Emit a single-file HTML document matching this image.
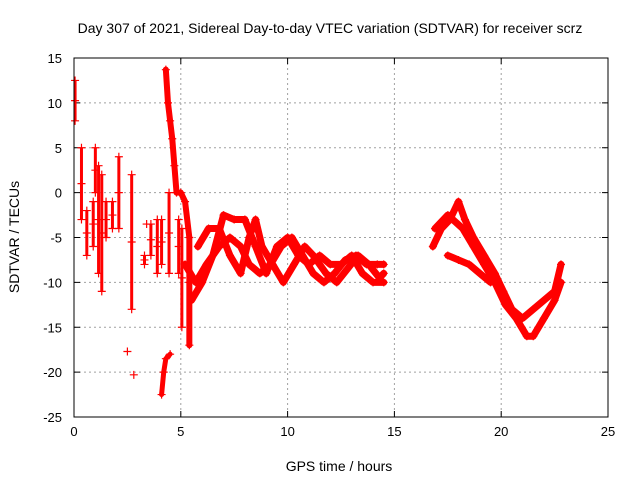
<!DOCTYPE html>
<html><head><meta charset="utf-8"><style>
body{margin:0;background:#fff;}
svg{font-family:"Liberation Sans",sans-serif;}
</style></head><body>
<svg id="chart" width="640" height="480" viewBox="0 0 640 480">
<text x="330" y="33" font-size="14" text-anchor="middle">Day 307 of 2021, Sidereal Day-to-day VTEC variation (SDTVAR) for receiver scrz</text>
<text x="339" y="471" font-size="14" text-anchor="middle">GPS time / hours</text>
<text x="19" y="237" font-size="14" text-anchor="middle" transform="rotate(-90 19 237)">SDTVAR / TECUs</text>
<g id="grid"></g><g id="marks"></g>
<rect x="74" y="58" width="534" height="359" fill="none" stroke="#000" stroke-width="1"/>
</svg>
<script>
const xTicks=[0,5,10,15,20,25];
const yTicks=[15,10,5,0,-5,-10,-15,-20,-25];
const track1=[[5.2,-8],[5.7,-10],[6.2,-8],[6.8,-6],[7.3,-5],[7.8,-6],[8.2,-8],[8.7,-9],[9.2,-8],[9.7,-6],[10.2,-5],[10.7,-7],[11.2,-9],[11.7,-10],[12.2,-9],[12.7,-7.5],[13.2,-7],[13.7,-8],[14.2,-8],[14.5,-8]];
const track2=[[5.5,-12],[6,-10],[6.5,-7],[7,-2.5],[7.5,-3],[8,-3],[8.5,-6],[9,-9],[9.5,-6],[10,-5],[10.5,-7],[11,-8],[11.5,-7],[12,-8],[12.5,-8],[13,-7],[13.5,-9],[14,-10],[14.5,-10]];
const track3=[[5.8,-6],[6.3,-4],[6.8,-4],[7.3,-7],[7.8,-9],[8.2,-5],[8.5,-3],[8.8,-6],[9.3,-8],[9.8,-10],[10.3,-8],[10.8,-6],[11.2,-7],[11.8,-9],[12.3,-10],[12.8,-8.5],[13.3,-7],[13.8,-8],[14.3,-9.5],[14.5,-9]];
const track4=[[16.8,-6],[17.2,-4],[17.6,-3],[18,-1],[18.3,-3],[18.7,-5],[19.2,-7],[19.7,-9],[20.1,-11],[20.5,-13],[21,-14],[21.5,-13],[22,-12],[22.5,-11],[22.8,-8]];
const track5=[[17.5,-7],[18,-7.5],[18.5,-8],[19,-9],[19.5,-10]];
const track6=[[16.9,-4],[17.5,-2.5],[18.2,-4],[18.7,-6],[19.2,-8],[19.7,-10],[20.2,-12.5],[20.7,-14],[21.2,-16],[21.5,-16],[22,-14],[22.5,-12],[22.8,-10]];
const spike=[[4.3,13.7],[4.4,10],[4.5,8],[4.6,6],[4.7,3],[4.8,0],[5.0,0],[5.2,-1],[5.4,-5],[5.4,-10],[5.4,-17]];
const rise=[[4.1,-22.5],[4.2,-20],[4.3,-18.5],[4.5,-18]];
const columns=[[0.05,8,12.5],[0.35,-3,5],[0.6,-7,-2],[0.9,-6,-1],[1.0,0,5],[1.15,-9,3],[1.3,-11,2],[1.5,-5,-1],[1.8,-4,-1],[2.1,-4,4],[2.7,-13,2],[3.3,-8,-7],[3.6,-7,-3.5],[3.9,-9,-3],[4.1,-8,-3],[4.45,-9,0],[4.9,-9,-3],[5.05,-15,-4]];
const isolated=[[2.5,-17.7],[2.8,-20.3],[3.4,-3.5]];
const X=v=>74+v*534/25, Y=v=>58+(15-v)*359/40;
const ns="http://www.w3.org/2000/svg";
const grid=document.getElementById('grid'), marks=document.getElementById('marks');
function mk(tag,at,p){const e=document.createElementNS(ns,tag);for(const k in at)e.setAttribute(k,at[k]);p.appendChild(e);return e;}
xTicks.forEach(t=>{
  if(t>0&&t<25){const l=mk('line',{x1:X(t),x2:X(t),y1:58,y2:417,stroke:'#a0a0a0','stroke-dasharray':'2,3'},grid);
  
  }
  const tx=mk('text',{x:X(t),y:436,'font-size':13,'text-anchor':'middle'},grid);tx.textContent=t;
  
  
  mk('line',{x1:X(t),x2:X(t),y1:417,y2:411,stroke:'#000'},grid);mk('line',{x1:X(t),x2:X(t),y1:58,y2:64,stroke:'#000'},grid);
});
yTicks.forEach(t=>{
  if(t<15&&t>-25){const l=mk('line',{x1:74,x2:608,y1:Y(t),y2:Y(t),stroke:'#a0a0a0','stroke-dasharray':'2,3'},grid);
  
  }
  const tx=mk('text',{x:62,y:Y(t)+5,'font-size':13,'text-anchor':'end'},grid);tx.textContent=t;
  
  
  mk('line',{x1:74,x2:80,y1:Y(t),y2:Y(t),stroke:'#000'},grid);mk('line',{x1:608,x2:602,y1:Y(t),y2:Y(t),stroke:'#000'},grid);
});
function plus(x,y){const p=mk('path',{d:`M${x-4},${y}h8M${x},${y-4}v8`,stroke:'#f00','stroke-width':1.2},marks);
  
  }
function track(pts,w){const pl=mk('polyline',{points:pts.map(p=>X(p[0])+','+Y(p[1])).join(' '),fill:'none',stroke:'#f00','stroke-width':w,'stroke-linejoin':'round','stroke-linecap':'round'},marks);
  
  
  pts.forEach(p=>plus(X(p[0]),Y(p[1])));}
[track1,track2,track3,track4,track5,track6].forEach(t=>track(t,7));
track(spike,6);track(rise,5);
columns.forEach(c=>{const l=mk('line',{x1:X(c[0]),x2:X(c[0]),y1:Y(c[2]),y2:Y(c[1]),stroke:'#f00','stroke-width':3},marks);
  
  
  plus(X(c[0]),Y(c[1]));plus(X(c[0]),Y(c[2]));plus(X(c[0]),Y((c[1]+c[2])/2));});
isolated.forEach(p=>plus(X(p[0]),Y(p[1])));
</script>
</body></html>
